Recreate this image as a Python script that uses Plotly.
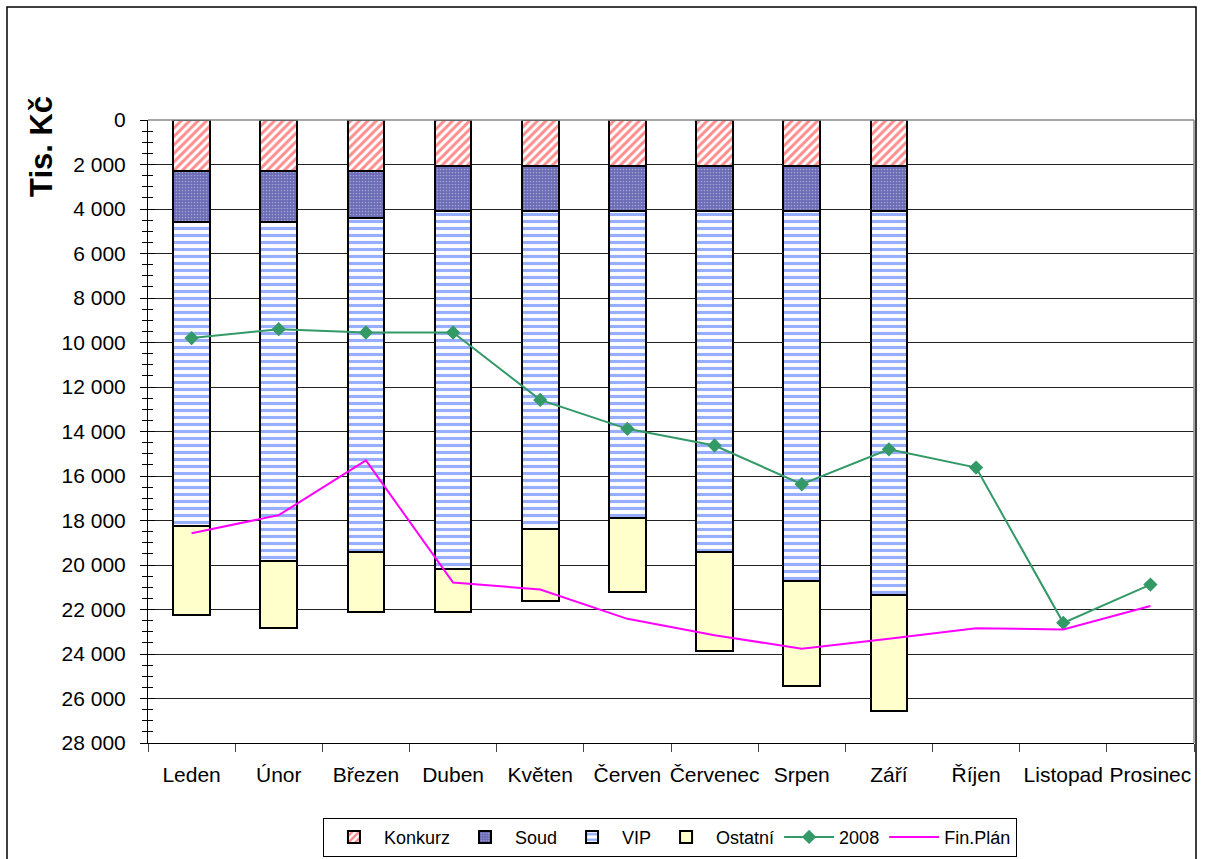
import plotly.graph_objects as go

months = ["Leden", "Únor", "Březen", "Duben", "Květen", "Červen", "Červenec",
          "Srpen", "Září", "Říjen", "Listopad", "Prosinec"]
konkurz = [2300, 2300, 2300, 2050, 2050, 2050, 2050, 2050, 2050, None, None, None]
soud = [2300, 2300, 2100, 2050, 2050, 2050, 2050, 2050, 2050, None, None, None]
vip = [13650, 15200, 15000, 16100, 14300, 13800, 15300, 16600, 17250, None, None, None]
ostatni = [4000, 3050, 2700, 1900, 3200, 3300, 4450, 4750, 5200, None, None, None]
rok2008 = [9800, 9400, 9550, 9550, 12580, 13880, 14630, 16370, 14800, 15620, 22600, 20880]
fin_plan = [18570, 17760, 15300, 20790, 21100, 22420, 23160, 23760, 23310, 22840, 22900, 21840]
y_ticks = list(range(0, 28001, 2000))

FONT = "Liberation Sans, Arial, sans-serif"
outline = dict(color="black", width=2)

fig = go.Figure()
fig.add_trace(go.Bar(
    x=months, y=konkurz, name="Konkurz",
    marker=dict(color="white", line=outline,
                pattern=dict(shape="/", fgcolor="#ff1a1a", bgcolor="white",
                             size=6, solidity=0.5, fillmode="overlay"))))
fig.add_trace(go.Bar(
    x=months, y=soud, name="Soud",
    marker=dict(color="#7a7abd", line=outline,
                pattern=dict(shape=".", fgcolor="#d8d8f0", bgcolor="#6a6ab5",
                             size=3, solidity=0.25, fillmode="overlay"))))
fig.add_trace(go.Bar(
    x=months, y=vip, name="VIP",
    marker=dict(color="white", line=outline,
                pattern=dict(shape="-", fgcolor="#2f5bff", bgcolor="white",
                             size=7, solidity=0.45, fillmode="overlay"))))
fig.add_trace(go.Bar(
    x=months, y=ostatni, name="Ostatní",
    marker=dict(color="#ffffcc", line=outline)))
fig.add_trace(go.Scatter(
    x=months, y=rok2008, name="2008", mode="lines+markers",
    line=dict(color="#339966", width=2),
    marker=dict(symbol="diamond", size=11, color="#339966")))
fig.add_trace(go.Scatter(
    x=months, y=fin_plan, name="Fin.Plán", mode="lines",
    line=dict(color="#ff00ff", width=2)))

fig.update_layout(
    width=1208, height=859,
    margin=dict(l=148, r=14, t=120, b=116, autoexpand=False),
    paper_bgcolor="white", plot_bgcolor="white",
    barmode="stack", bargap=0.58,
    separators=", ",
    font=dict(family=FONT, size=21, color="black"),
    showlegend=True,
    legend=dict(orientation="h", x=0.499, xanchor="center", y=-0.12, yanchor="top",
                bordercolor="black", borderwidth=1, bgcolor="white",
                font=dict(size=18, family=FONT), itemwidth=50,
                traceorder="normal"),
    xaxis=dict(showgrid=False, showline=True, linecolor="black", linewidth=1,
               range=[-0.5, 11.5],
               ticks="outside", ticklen=8, tickcolor="#444", tickson="boundaries",
               tickangle=0, automargin=False,
               tickfont=dict(size=21), ticklabelstandoff=13),
    yaxis=dict(range=[28000, 0], tickvals=y_ticks, tickformat=",d",
               showgrid=True, gridcolor="#222", gridwidth=1,
               showline=True, linecolor="black", linewidth=1, automargin=False,
               ticks="outside", ticklen=7, tickcolor="black",
               minor=dict(dtick=500, ticks="outside", ticklen=5, tickcolor="black", showgrid=False),
               tickfont=dict(size=21), ticklabelstandoff=10, zeroline=False),
    yaxis2=dict(overlaying="y", matches="y", side="left", anchor="x",
                range=[28000, 0], tickvals=y_ticks, showticklabels=False,
                showgrid=False, showline=False, ticks="inside", ticklen=7,
                tickcolor="black", automargin=False,
                minor=dict(dtick=500, ticks="inside", ticklen=5, tickcolor="black", showgrid=False)),
)

# plot-area border (top/right gray)
fig.add_shape(type="line", xref="paper", yref="paper", x0=0, x1=1, y0=1, y1=1,
              line=dict(color="#888888", width=1.5), layer="above")
fig.add_shape(type="line", xref="paper", yref="paper", x0=1, x1=1, y0=0, y1=1,
              line=dict(color="#888888", width=1.5), layer="above")
# outer chart border
fig.add_shape(type="rect", xref="paper", yref="paper",
              x0=(7 - 148) / 1046, x1=(1196 - 148) / 1046,
              y0=(743 - 880) / 623, y1=(743 - 7) / 623,
              line=dict(color="black", width=1.5))

fig.add_annotation(text="<b>Tis. Kč</b>", xref="paper", yref="paper",
                   x=(41 - 148) / 1046, y=(743 - 147) / 623, textangle=-90,
                   xanchor="center", yanchor="middle",
                   showarrow=False, font=dict(size=31, family=FONT, color="black"))

# dummy trace to activate yaxis2 ticks
fig.add_trace(go.Scatter(x=[months[0]], y=[None], yaxis="y2", showlegend=False,
                         hoverinfo="skip"))

fig.write_html("out.html")
